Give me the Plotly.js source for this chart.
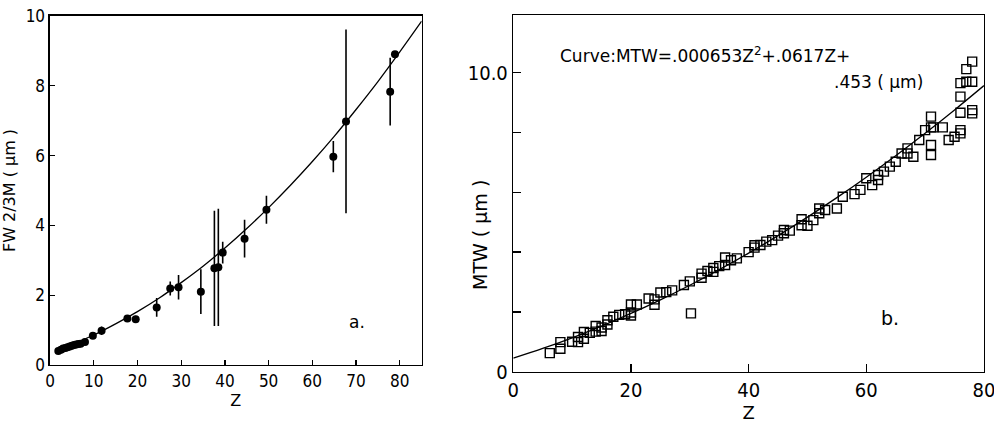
<!DOCTYPE html>
<html>
<head>
<meta charset="utf-8">
<script src="https://cdn.plot.ly/plotly-3.0.1.min.js"></script>
<style>
html,body{margin:0;padding:0;background:#fff;}
#chart{width:994px;height:425px;}
</style>
</head>
<body>
<div id="chart"></div>
<script>
// ---- Panel a: FW2/3M vs Z (measured points with error bars) ----
const aZ   = [1.9, 2.5, 3.0, 3.5, 4.0, 4.5, 5.0, 5.5, 6.0, 6.5, 7.0, 8.0, 9.8, 11.8, 17.7, 19.6, 24.4, 27.5, 29.4, 34.5, 37.6, 38.5, 39.5, 44.5, 49.5, 64.8, 67.7, 77.8, 78.9];
const aW   = [0.40, 0.44, 0.47, 0.49, 0.51, 0.53, 0.55, 0.57, 0.59, 0.60, 0.61, 0.66, 0.84, 0.98, 1.33, 1.31, 1.65, 2.19, 2.23, 2.10, 2.77, 2.80, 3.22, 3.62, 4.45, 5.97, 6.98, 7.83, 8.90];
const aErr = [0, 0, 0, 0, 0, 0, 0, 0, 0, 0, 0, 0, 0.03, 0.12, 0.08, 0.10, 0.27, 0.20, 0.35, 0.64, 1.65, 1.68, 0.31, 0.54, 0.40, 0.45, 2.63, 0.97, 0];
// fitted curve
const aCurveZ = [2, 5, 10, 15, 20, 25, 30, 35, 40, 45, 50, 55, 60, 65, 70, 75, 80, 85];
const aCurveW = [0.45, 0.59, 0.86, 1.18, 1.53, 1.92, 2.36, 2.83, 3.35, 3.91, 4.51, 5.15, 5.83, 6.55, 7.32, 8.12, 8.97, 9.85];

// ---- Panel b: MTW vs Z ----
const bZ = [6.2, 8, 8, 10, 11, 11, 12, 12, 13, 14, 14, 15, 15, 16, 16, 17, 18, 19, 20, 20, 20, 21, 23, 24, 24, 25, 26, 27, 29, 30, 30.2,
            32, 32, 33, 34, 34, 35, 36, 36, 37, 38, 40, 41, 41, 42, 43, 44, 45, 46, 46, 47, 49, 49, 50, 51, 52, 52, 53, 55, 56, 58, 59,
            60, 61, 62, 62, 63, 64, 65, 66, 67, 67, 68, 69, 70, 71, 71, 71.4, 71, 71, 73, 74, 75, 76, 76, 76, 76, 76, 77, 77, 78, 78, 78, 78];
const bMTW = [0.62, 0.99, 0.77, 1.00, 1.16, 0.99, 1.33, 1.10, 1.30, 1.53, 1.34, 1.48, 1.36, 1.72, 1.58, 1.84, 1.90, 1.92, 2.25, 1.98, 1.88, 2.25, 2.45, 2.24, 2.42, 2.65, 2.66, 2.72, 2.90, 3.02, 1.95,
              3.28, 3.14, 3.37, 3.47, 3.34, 3.53, 3.82, 3.57, 3.73, 3.79, 4.00, 4.23, 4.15, 4.24, 4.35, 4.40, 4.55, 4.74, 4.63, 4.72, 5.10, 4.90, 4.88, 5.07, 5.46, 5.30, 5.41, 5.46, 5.85, 5.94, 6.08,
              6.47, 6.24, 6.58, 6.41, 6.69, 6.86, 7.02, 7.30, 7.47, 7.30, 7.19, 7.75, 8.08, 8.53, 8.17, 8.17, 7.58, 7.25, 8.17, 7.75, 7.86, 7.97, 8.08, 8.66, 9.20, 9.65, 9.70, 10.12, 10.37, 9.70, 8.75, 8.64];
// curve MTW = .000653Z^2 + .0617Z + .453, values read at these Z
const bCurveZ = [0, 5, 10, 15, 20, 25, 30, 35, 40, 45, 50, 55, 60, 65, 70, 75, 80];
const bCurveW = [0.453, 0.778, 1.135, 1.525, 1.948, 2.404, 2.892, 3.412, 3.966, 4.552, 5.171, 5.822, 6.506, 7.222, 7.972, 8.754, 9.568];

const aXTicks = [0, 10, 20, 30, 40, 50, 60, 70, 80];
const aYTicks = [0, 2, 4, 6, 8, 10];
const bXTicks = [0, 20, 40, 60, 80];
const bYTicks = [0, 10];
const bYText  = ['0', '10.0'];
const bYMinor = [2, 4, 6, 8];

const FONT = 'DejaVu Sans, Liberation Sans, sans-serif';
const NARROW = 'Liberation Sans Narrow, DejaVu Sans Condensed, Roboto, sans-serif';

const traces = [
  {x: aCurveZ, y: aCurveW, xaxis: 'x', yaxis: 'y', mode: 'lines', line: {color: '#000', width: 1.3, shape: 'spline'}, hoverinfo: 'skip'},
  {x: aZ, y: aW, xaxis: 'x', yaxis: 'y', mode: 'markers',
   marker: {symbol: 'circle', size: 8, color: '#000'},
   error_y: {type: 'data', array: aErr, visible: true, color: '#000', thickness: 1.6, width: 0}},
  {x: bCurveZ, y: bCurveW, xaxis: 'x2', yaxis: 'y2', mode: 'lines', line: {color: '#000', width: 1.3, shape: 'spline'}, hoverinfo: 'skip'},
  {x: bZ, y: bMTW, xaxis: 'x2', yaxis: 'y2', mode: 'markers',
   marker: {symbol: 'square-open', size: 9, color: '#000', line: {width: 1.4, color: '#000'}}}
];

const axBase = {showgrid: false, zeroline: false, showline: true, linecolor: '#000', linewidth: 1.5, mirror: true,
                ticks: 'inside', tickcolor: '#000', tickwidth: 1.3, color: '#000', ticklabeloverflow: 'allow'};

const layout = {
  width: 994, height: 425,
  margin: {l: 0, r: 0, t: 0, b: 0},
  paper_bgcolor: '#fff', plot_bgcolor: '#fff',
  showlegend: false,
  font: {family: FONT, color: '#000'},
  xaxis: Object.assign({}, axBase, {domain: [0.0503, 0.4242], range: [0, 85], tickvals: aXTicks, ticklen: 5,
          tickfont: {size: 17, family: NARROW}, anchor: 'y',
          title: {text: 'Z', font: {size: 16, family: FONT}, standoff: 3}}),
  yaxis: Object.assign({}, axBase, {domain: [0.1412, 0.9624], range: [0, 10], tickvals: aYTicks, ticklen: 5,
          tickfont: {size: 17, family: NARROW}, anchor: 'x',
          title: {text: 'FW 2/3M ( μm )', font: {size: 16, family: FONT}, standoff: 8}}),
  xaxis2: Object.assign({}, axBase, {domain: [0.5164, 0.9899], range: [0, 80], tickvals: bXTicks, ticklen: 8,
          tickfont: {size: 20, family: NARROW}, anchor: 'y2',
          title: {text: 'Z', font: {size: 18, family: FONT}, standoff: 2}}),
  yaxis2: Object.assign({}, axBase, {domain: [0.1254, 0.9647], range: [0, 11.93], tickvals: bYTicks, ticktext: bYText, ticklen: 8,
          tickfont: {size: 20, family: NARROW}, anchor: 'x2',
          minor: {tickvals: bYMinor, ticks: 'inside', ticklen: 8, tickwidth: 1.3, tickcolor: '#000', showgrid: false}}),
  annotations: [
    {xref: 'paper', yref: 'paper', x: 480 / 994, y: 1 - 235 / 425, text: 'MTW ( μm )', textangle: -90, showarrow: false,
     font: {size: 19, family: FONT}},
    {xref: 'x', yref: 'y', x: 70.3, y: 1.24, text: 'a.', showarrow: false, font: {size: 17, family: FONT}},
    {xref: 'x2', yref: 'y2', x: 64, y: 1.8, text: 'b.', showarrow: false, font: {size: 19, family: FONT}},
    {xref: 'x2', yref: 'y2', x: 7.6, y: 10.6, xanchor: 'left', text: 'Curve:MTW=.000653Z<sup>2</sup>+.0617Z+', showarrow: false, font: {size: 17, family: FONT}},
    {xref: 'x2', yref: 'y2', x: 70, y: 9.7, xanchor: 'right', text: '.453 ( μm)', showarrow: false, font: {size: 17, family: FONT}}
  ]
};

Plotly.newPlot('chart', traces, layout, {staticPlot: true, displayModeBar: false});
</script>
</body>
</html>
